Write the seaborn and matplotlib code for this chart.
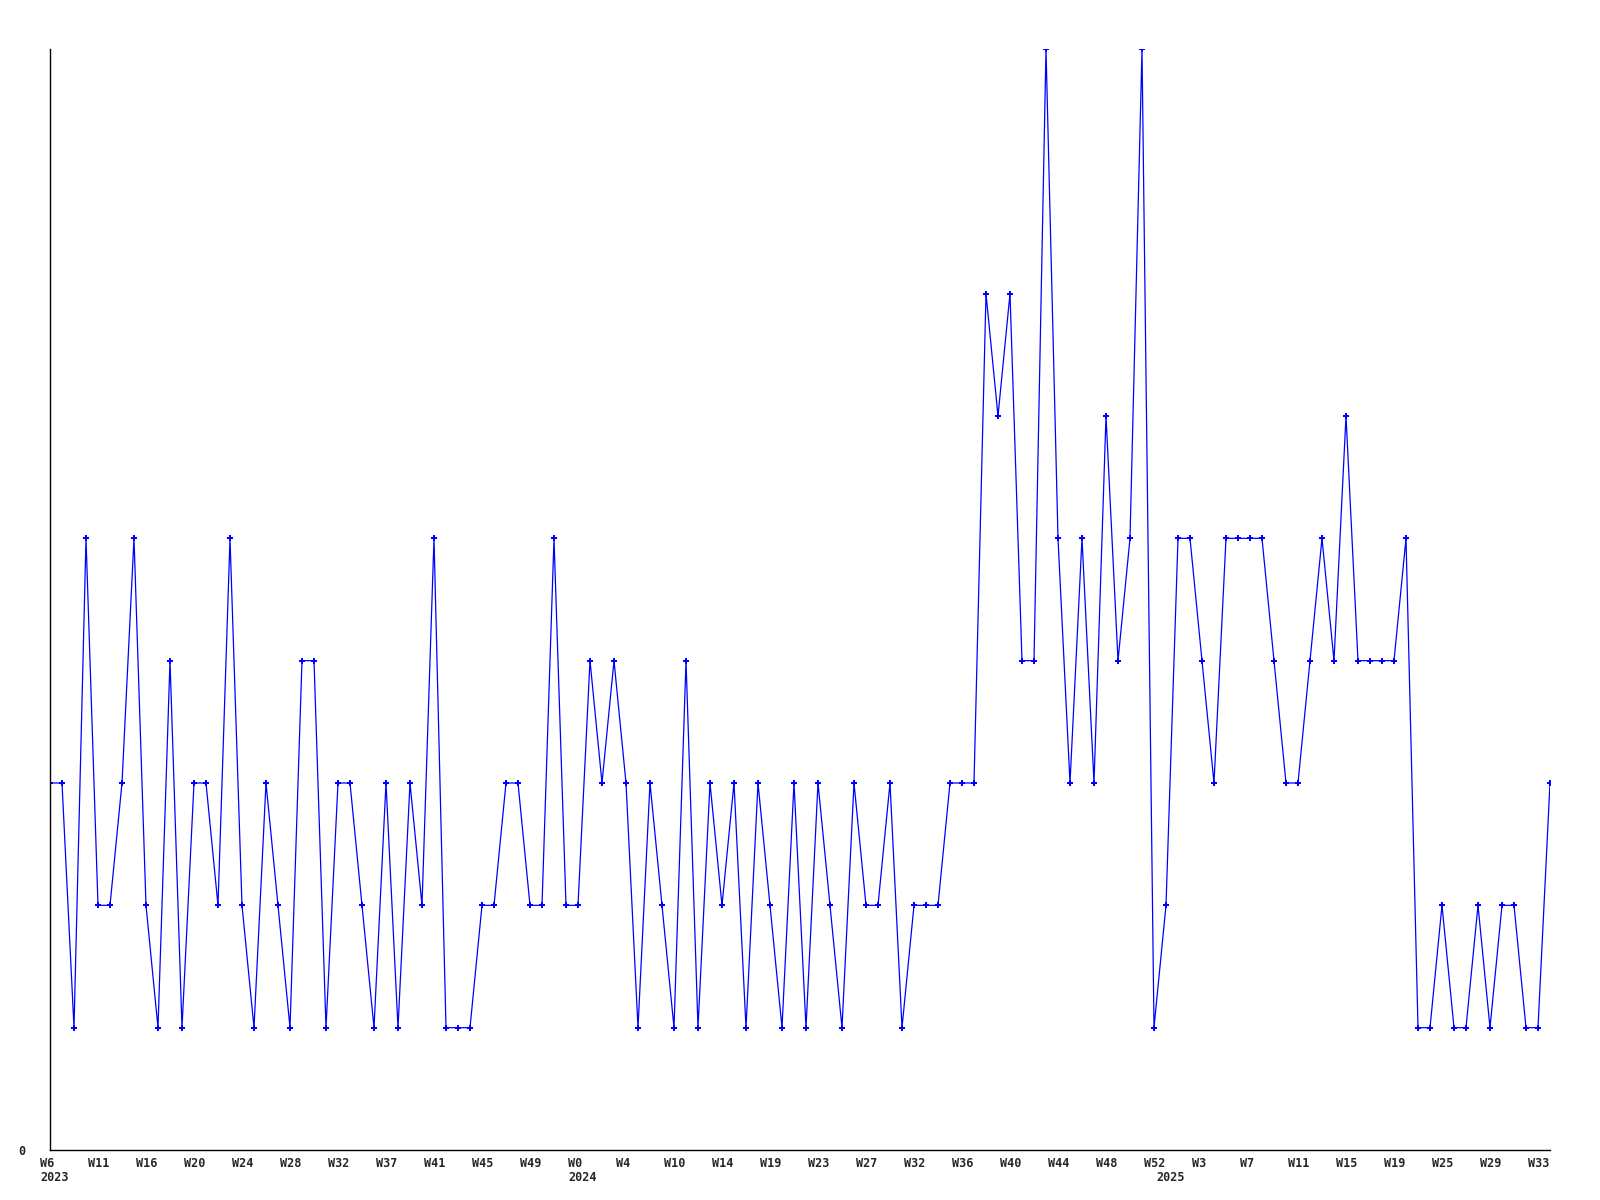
import matplotlib
matplotlib.use("Agg")
import matplotlib.pyplot as plt
from matplotlib.transforms import ScaledTranslation
import numpy as np
import pandas as pd
import seaborn as sns

# weekly counts, one value per data point (oldest first)
values = [
    3, 3, 1, 5, 2, 2, 3, 5, 2, 1, 4, 1, 3, 3, 2, 5, 2, 1, 3, 2,
    1, 4, 4, 1, 3, 3, 2, 1, 3, 1, 3, 2, 5, 1, 1, 1, 2, 2, 3, 3,
    2, 2, 5, 2, 2, 4, 3, 4, 3, 1, 3, 2, 1, 4, 1, 3, 2, 3, 1, 3,
    2, 1, 3, 1, 3, 2, 1, 3, 2, 2, 3, 1, 2, 2, 2, 3, 3, 3, 7, 6,
    7, 4, 4, 9, 5, 3, 5, 3, 6, 4, 5, 9, 1, 2, 5, 5, 4, 3, 5, 5,
    5, 5, 4, 3, 3, 4, 5, 4, 6, 4, 4, 4, 4, 5, 1, 1, 2, 1, 1, 2,
    1, 2, 2, 1, 1, 3,
]

# week labels shown on every 4th point
tick_labels = [
    "W6", "W11", "W16", "W20", "W24", "W28", "W32", "W37", "W41", "W45", "W49",
    "W0", "W4", "W10", "W14", "W19", "W23", "W27", "W32", "W36", "W40", "W44",
    "W48", "W52", "W3", "W7", "W11", "W15", "W19", "W25", "W29", "W33",
]

# year labels under the first point of each year
year_points = [0, 44, 93]
year_labels = ["2023", "2024", "2025"]

df = pd.DataFrame({"idx": np.arange(len(values)), "count": values})

sns.set_style("white")
plt.rcParams["font.family"] = ["DejaVu Sans Mono", "DejaVu Sans"]

fig = plt.figure(figsize=(16, 12), dpi=100)
ax = fig.add_axes([50 / 1600, 50 / 1200, 1500 / 1600, 1101 / 1200])

sns.lineplot(data=df, x="idx", y="count", ax=ax, color="#0000ff",
             linewidth=0.9, marker="P", markersize=5,
             markeredgewidth=0, sort=False)

ax.set_xlim(0, len(values) - 1)
ax.set_ylim(0, 9)

for side in ["top", "right"]:
    ax.spines[side].set_visible(False)
for side in ["left", "bottom"]:
    ax.spines[side].set_color("black")
    ax.spines[side].set_linewidth(1)

ax.set_xlabel("")
ax.set_ylabel("")
ax.set_yticks([0])
ax.set_yticklabels(["0"], fontsize=8.5, fontweight="bold")
ax.tick_params(axis="y", length=0, pad=18)

ax.set_xticks(np.arange(0, len(values), 4))
ax.set_xticklabels(tick_labels, fontsize=8.5, fontweight="bold")
ax.tick_params(axis="x", length=0, pad=5)
shift = ScaledTranslation(-10 / 100, 0, fig.dpi_scale_trans)
for lbl in ax.get_xticklabels():
    lbl.set_ha("left")
    lbl.set_transform(lbl.get_transform() + shift)

for pos, yr in zip(year_points, year_labels):
    ax.text(pos, -0.019, yr, transform=ax.get_xaxis_transform() + shift,
            ha="left", va="top", fontsize=8.5, fontweight="bold")

fig.savefig("out.png", dpi=100)
